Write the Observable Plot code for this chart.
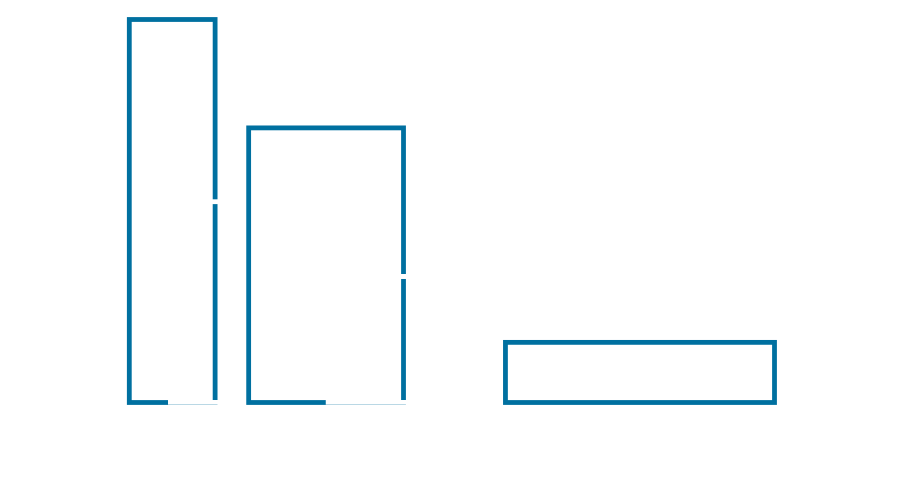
<!DOCTYPE html>
<html>
<head>
<meta charset="utf-8">
<script src="https://cdn.jsdelivr.net/npm/d3@7"></script>
<script src="https://cdn.jsdelivr.net/npm/@observablehq/plot@0.6"></script>
<style>
  html, body { margin: 0; padding: 0; background: #ffffff; }
  #chart { width: 910px; height: 486px; }
</style>
</head>
<body>
<div id="chart"></div>
<script>
// Bars (x extent and value)
const barStart = [0, 18.5, 58.3];
const barEnd   = [13.3, 42.5, 100];
const barValue = [100, 71.7, 15.7];

// White breaks on the right edges of the first two bars
const notchLow  = [51.8, 32.25];
const notchHigh = [53.05, 33.55];

// White breaks along the base of the first two bars
const baseGapStart = [6.0, 30.45];

const bars = barStart.map((s, i) => ({x1: s, x2: barEnd[i], y: barValue[i]}));
const notches = notchLow.map((lo, i) => ({x: barEnd[i], y1: lo, y2: notchHigh[i]}));
const baseGaps = baseGapStart.map((s, i) => ({x1: s, x2: barEnd[i]}));

const blue = "#0070a0";

const chart = Plot.plot({
  width: 910,
  height: 486,
  marginLeft: 129.3,
  marginRight: 135.5,
  marginTop: 19.5,
  marginBottom: 83.5,
  x: {domain: [0, 100], axis: null},
  y: {domain: [0, 100], axis: null},
  marks: [
    Plot.rect(bars, {x1: "x1", x2: "x2", y1: 0, y2: "y", fill: "none", stroke: blue, strokeWidth: 4.8}),
    Plot.rect(notches, {x1: "x", x2: "x", y1: "y1", y2: "y2", fill: "white", insetLeft: -3.5, insetRight: -3.5}),
    Plot.rect(baseGaps, {x1: "x1", x2: "x2", y1: 0, y2: 0, fill: "white", insetTop: -2.5, insetBottom: -2.2, insetRight: -3.5})
  ]
});
document.getElementById("chart").appendChild(chart);
</script>
</body>
</html>
